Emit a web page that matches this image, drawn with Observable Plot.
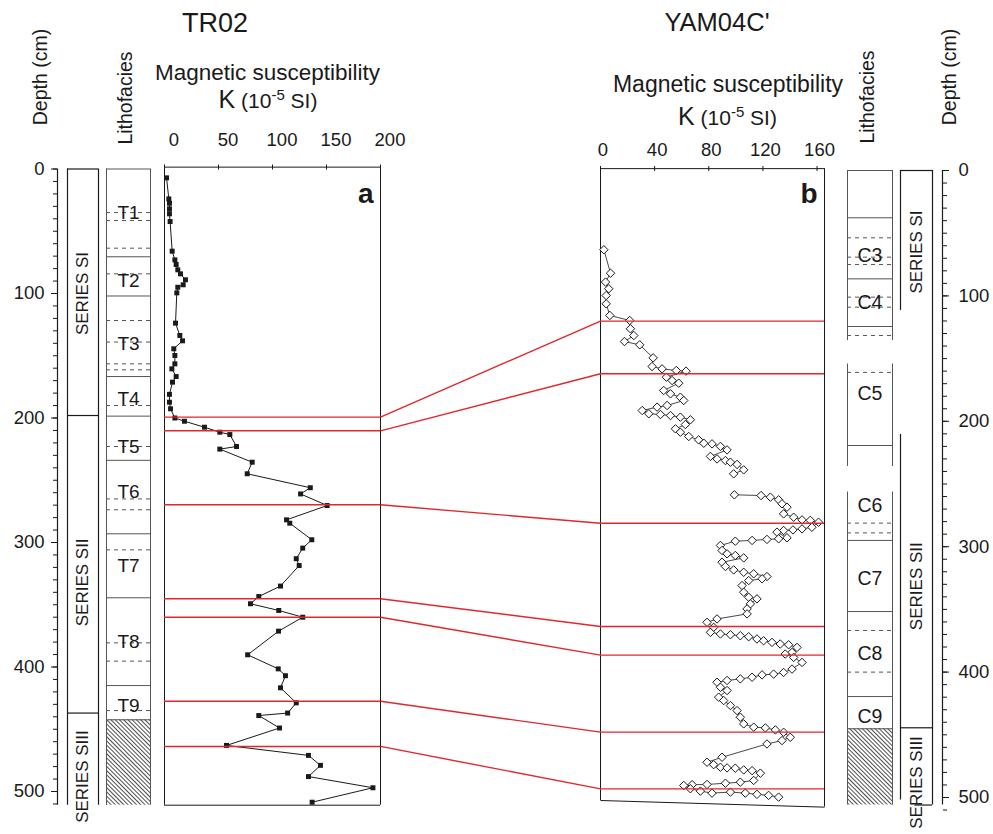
<!DOCTYPE html>
<html><head><meta charset="utf-8">
<script src="https://cdn.jsdelivr.net/npm/d3@7"></script>
<script src="https://cdn.jsdelivr.net/npm/@observablehq/plot@0.6"></script>
<style>
body{margin:0;background:#fff;}
#fig{position:relative;width:993px;height:834px;overflow:hidden;font-family:'Liberation Sans',Arial,sans-serif;color:#1a1a1a;background:#fff;}
.lbl{position:absolute;white-space:nowrap;line-height:1;transform:translate(-50%,-50%);}
.rot{transform:translate(-50%,-50%) rotate(-90deg);}
</style></head><body>
<svg width="0" height="0" style="position:absolute"><defs>
<pattern id="hatch" patternUnits="userSpaceOnUse" width="3" height="3" patternTransform="rotate(-45)">
<line x1="1.5" y1="-1" x2="1.5" y2="4" stroke="#222" stroke-width="0.8"/></pattern></defs></svg>
<div id="fig"></div>
<script>
// ---------------- data ----------------
const depthTicks = [0, 100, 200, 300, 400, 500];
const minorTicks = d3.range(0, 511, 10);
const ticksA = [0, 50, 100, 150, 200];
const ticksB = [0, 40, 80, 120, 160];

// TR02 (left) series & lithofacies (depth, cm)
const seriesNamesL = ["SERIES SI", "SERIES SII", "SERIES SIII"];
const seriesBoundsL = [0, 198, 437];
const seriesMidL = [100, 332, 488];
const faciesNamesL = ["T1", "T2", "T3", "T4", "T5", "T6", "T7", "T8", "T9"];
const faciesMidL = [35, 89.6, 140.4, 184.6, 222.9, 259, 318.5, 380, 431];
const faciesSolidL = [0, 70.5, 102, 166.7, 198.5, 234, 293, 344.4, 414.9, 442.4];
const faciesDashedL = [35, 41.4, 63.6, 84.2, 121.7, 139, 156.5, 161.3, 190, 222.9, 265, 273.7, 305.9, 380.6, 395.3, 435];
const hatchL = [442.4, 511];

// YAM04C' (right) series & lithofacies
const seriesNamesR = ["SERIES SI", "SERIES SII", "SERIES SIII"];
const seriesMidR = [65, 331.5, 488];
const seriesLeftSegsR = [[0, 111.6], [210.5, 502]];
const seriesBoundsR = [0, 444.4];
const faciesNamesR = ["C3", "C4", "C5", "C6", "C7", "C8", "C9"];
const faciesMidR = [67.8, 105.8, 178, 267, 325.6, 385.4, 435.4];
const faciesSolidR = [0, 37.7, 86.4, 124.4, 219.3, 295, 351.7, 419.5, 445.2];
const faciesDashedR = [53.7, 69.1, 75, 101, 109, 131.6, 161, 281.2, 289, 366.8, 400];
const faciesSegsR = [[0, 135.6], [154.3, 236], [256.4, 506]];
const hatchR = [445.2, 506];

// correlation levels (depth in TR02 -> depth in YAM04C')
const redA = [199.3, 210.3, 269.7, 345.2, 360, 427.5, 463.8];
const redB = [120.1, 162.1, 281.3, 363.6, 386.5, 447.9, 493.1];

// magnetic susceptibility TR02
const depthA = [7.1,24,27.5,32,36,42.2,66,73,76.7,81,84.2,89,93,95,99.5,123.8,133.7,138,144.4,149.8,156.5,160.5,166.7,171.2,181,187.3,192.6,200,202.6,207.4,211.4,213.3,222.9,225,235.5,244.8,256,261,270.3,281.8,284.5,297.8,304.5,313,318.5,335,343.4,349.2,354.6,360,371.2,390.2,401.5,407,416.7,428.8,437,439,449,463,471,479,488,497,508.6];
const kA = [1.9,4,4.6,4.6,4.6,5.2,7.1,9.6,10.8,12.3,14.8,19.4,17.3,12.3,11.4,10.2,14.2,16.7,8.6,9.6,9.6,6.8,10.8,7.4,4.6,4.6,5.6,9.6,18.5,37,51.2,60.5,66.7,51.2,81.2,76.6,135,126,150.6,113,116,136.4,128,122,124.7,107.4,87.3,79.6,105.8,128,105.6,77,105.3,112,107.4,122,114,87.3,106.5,57.4,133.3,144.4,133.3,193,136.7];

// magnetic susceptibility YAM04C'
const depthB = [63.2,81.9,89,94.3,99.7,106.3,115.6,119.6,126.2,131.6,136.4,139,149.4,156.3,158.2,159.5,160,164.8,167.5,169.6,175.4,178.1,180.8,183.4,187.4,188.7,191.4,194,194.6,195.4,196.7,198.8,202.6,206,208.7,212.1,214.8,217.5,218,220,222.8,228,230,231.3,232.6,234.4,238.7,241.9,
258.6,259.2,260.5,262.6,265.8,268.5,273.8,276.5,278.6,279,280.5,284.5,285.8,286.6,287.1,288.4,292.9,293.7,294.2,295,295.6,299,303,305.7,307,308.9,312.4,315.8,318.5,320.4,321.6,323.8,325.6,327,331,336.3,340.3,341.6,345.6,349.6,353.6,357.6,360.3,364.3,368.3,369.6,370.2,371,371.8,373.6,375,376.3,377.6,378.2,380.3,384.3,385.6,388.3,392.3,397.6,400.3,401.6,402.2,404.1,405.4,406.7,408.1,412.1,414.7,420,422.7,426.7,430.7,436,441.3,443.9,444.5,446.1,448,452,454.6,457.3,467.9,471.9,473.8,475.9,476.4,476.6,478,478.6,480.6,486.4,487.8,488.6,489.6,489.8,490.4,493,494.9,496.5,495.7,496.5,497.5,498.3,499.7];
const kB = [2.5,7.4,3.7,6.1,4.2,4.2,6.9,21.6,22.1,24.6,17.7,29,38.9,38.1,45.5,56,63.2,48.7,52.9,57.8,46.7,51.7,59,61.5,49.2,41.8,30.8,35.7,44.3,51.7,59,66.4,62.7,55.4,59,65.2,72.5,76.3,82.4,88.6,93.5,81.2,86.1,92.3,96,100.9,105.8,98.4,
98.9,118.6,125.5,131.6,134.1,137.8,135.3,142.7,148.9,155,161.1,156.2,148.9,142.2,135.3,130.4,137.8,131.6,123,112,99.6,88.6,89.8,93.5,99.6,105.8,89.8,92.3,98.4,105.8,113.2,123,119.4,109.5,104.6,105.8,109.5,115.6,110.7,108.3,108.3,86.1,78.7,83.6,81.2,88.6,96,103.3,109.5,115.6,120.5,126.7,132.8,139,145.2,141.5,136.5,142.7,148.9,141.5,135.3,127.9,119.4,112,103.3,93.5,86.1,88.6,93.5,87.3,91,96,100.9,103.3,105.8,113.2,121.8,129.2,135.3,140.2,134.1,123,89.8,78.7,83.6,88.6,93.5,99.6,105.8,112,118.1,113.2,103.3,92.3,78.7,67.7,61.5,66.4,73.8,82.4,96,107,115.6,124.2,131.6];
const coreGapB = 250; // core break in YAM04C' record

const dataA = depthA.map((d, i) => ({d, k: kA[i]}));
const dataB = depthB.map((d, i) => ({d, k: kB[i], run: d < coreGapB ? "upper" : "lower"}));

// ---------------- layout ----------------
const W = 993, H = 834;
const FONT = "'Liberation Sans', Arial, Helvetica, sans-serif";
const INK = "#1a1a1a", GRAY = "#555", RED = "#e3262d";
const L = {top: 168.5, bottom500: 791};
const R = {top: 170, bottom500: 797};
const colBottomL = 511, colBottomR = 506;
const frameTopA = -1.5, frameBottomA = 511;
const kMaxB = 165.5, frameTopB = -1.5, bottomLeftB = 502.4, bottomRightB = 507.7;
const fig = document.getElementById("fig");

function layer(x0, x1, geo, opts) {
  const p = Plot.plot({
    width: W, height: H,
    marginLeft: x0, marginRight: W - x1,
    marginTop: geo.top, marginBottom: H - geo.bottom500,
    style: `position:absolute;left:0;top:0;overflow:visible;font-family:${FONT};color:${INK};background:transparent`,
    marks: opts.marks,
    x: Object.assign({domain: [0, 1], axis: null, label: null}, opts.x || {}),
    y: Object.assign({domain: [0, 500], reverse: true, axis: null, label: null}, opts.y || {})
  });
  fig.appendChild(p);
  return p;
}

function label(html, x, y, size, o = {}) {
  const el = document.createElement("div");
  el.className = "lbl" + (o.rotate ? " rot" : "");
  el.style.left = x + "px"; el.style.top = y + "px"; el.style.fontSize = size + "px";
  el.innerHTML = html;
  fig.appendChild(el);
}

// left depth axis
layer(57, 58, L, {
  y: {axis: undefined},
  marks: [
    Plot.ruleX([0], {y1: 0, y2: colBottomL, stroke: INK, strokeWidth: 1.2}),
    Plot.axisY(minorTicks, {anchor: "left", tickSize: 4, tickFormat: () => "", label: null, stroke: INK}),
    Plot.axisY(depthTicks, {anchor: "left", tickSize: 6, tickPadding: 7, fontSize: 18.5, label: null, stroke: INK, fill: INK})
  ]
});

// left series column
layer(67, 98, L, {marks: [
  Plot.ruleX([0, 1], {y1: 0, y2: colBottomL, stroke: INK, strokeWidth: 1.2}),
  Plot.ruleY(seriesBoundsL, {stroke: INK, strokeWidth: 1.2}),
  Plot.text(seriesNamesL, {y: (d, i) => seriesMidL[i], text: d => d, frameAnchor: "middle", rotate: -90, fontSize: 17, fill: INK})
]});

// left lithofacies column
layer(106, 150, L, {marks: [
  Plot.rect([hatchL], {y1: d => d[0], y2: d => d[1], fill: "url(#hatch)"}),
  Plot.ruleX([0, 1], {y1: 0, y2: colBottomL, stroke: GRAY}),
  Plot.ruleY(faciesSolidL, {stroke: GRAY}),
  Plot.ruleY(faciesDashedL, {stroke: GRAY, strokeDasharray: "4,4"}),
  Plot.text(faciesNamesL, {y: (d, i) => faciesMidL[i], text: d => d, frameAnchor: "middle", fontSize: 19, fill: INK})
]});

// panel a
const plotA = layer(164, 380, L, {
  x: {domain: [0, 200], axis: undefined},
  marks: [
    Plot.ruleX([0, 200], {y1: frameTopA, y2: frameBottomA, stroke: INK}),
    Plot.ruleY([frameTopA, frameBottomA], {stroke: INK}),
    Plot.axisX(ticksA, {anchor: "top", tickSize: 5, tickFormat: () => "", label: null, stroke: INK}),
    Plot.axisX(ticksA, {anchor: "top", tickSize: 0, tickPadding: 23, dx: 9.5, fontSize: 18.5, label: null, fill: INK}),
    Plot.line(dataA, {x: "k", y: "d", stroke: INK, strokeWidth: 1}),
    Plot.dot(dataA, {x: "k", y: "d", symbol: "square", r: 2.8, fill: INK}),
    Plot.ruleY(redA, {stroke: RED, strokeWidth: 1.4}),
    Plot.text(["a"], {text: d => d, frameAnchor: "top-right", dx: -7, dy: 14.5, fontSize: 28, fontWeight: "bold", fill: INK})
  ]
});

// panel b
const plotB = layer(600, 824, R, {
  x: {domain: [0, kMaxB], axis: undefined},
  marks: [
    Plot.ruleX([0], {y1: frameTopB, y2: bottomLeftB, stroke: INK}),
    Plot.ruleX([kMaxB], {y1: frameTopB, y2: bottomRightB, stroke: INK}),
    Plot.ruleY([frameTopB], {stroke: INK}),
    Plot.link([kMaxB], {x1: 0, y1: bottomLeftB, x2: d => d, y2: bottomRightB, stroke: INK}),
    Plot.axisX(ticksB, {anchor: "top", tickSize: 5, tickFormat: () => "", label: null, stroke: INK}),
    Plot.axisX(ticksB, {anchor: "top", tickSize: 0, tickPadding: 15, dx: 2.5, fontSize: 18.5, label: null, fill: INK}),
    Plot.line(dataB, {x: "k", y: "d", z: "run", stroke: INK, strokeWidth: 0.8}),
    Plot.dot(dataB, {x: "k", y: "d", symbol: "diamond2", r: 3.8, fill: "white", stroke: INK, strokeWidth: 1}),
    Plot.ruleY(redB, {stroke: RED, strokeWidth: 1.4}),
    Plot.text(["b"], {text: d => d, frameAnchor: "top-right", dx: -7, dy: 13, fontSize: 28, fontWeight: "bold", fill: INK})
  ]
});

// correlation connectors between the two panels
const yA = plotA.scale("y"), yB = plotB.scale("y");
const links = redA.map((a, i) => ({a, b: yA.invert(yB.apply(redB[i]))}));
layer(380, 600, L, {marks: [
  Plot.link(links, {x1: 0, x2: 1, y1: "a", y2: "b", stroke: RED, strokeWidth: 1.4})
]});

// right lithofacies column
layer(847, 892, R, {marks: [
  Plot.rect([hatchR], {y1: d => d[0], y2: d => d[1], fill: "url(#hatch)"}),
  Plot.ruleX(d3.cross([0, 1], faciesSegsR), {x: d => d[0], y1: d => d[1][0], y2: d => d[1][1], stroke: GRAY}),
  Plot.ruleY(faciesSolidR, {stroke: GRAY}),
  Plot.ruleY(faciesDashedR, {stroke: GRAY, strokeDasharray: "4,4"}),
  Plot.text(faciesNamesR, {y: (d, i) => faciesMidR[i], text: d => d, frameAnchor: "middle", fontSize: 19.5, fill: INK})
]});

// right series column
layer(900, 932, R, {marks: [
  Plot.ruleX(seriesLeftSegsR, {x: 0, y1: d => d[0], y2: d => d[1], stroke: INK, strokeWidth: 1.2}),
  Plot.ruleX([1], {y1: 0, y2: colBottomR, stroke: INK, strokeWidth: 1.2}),
  Plot.ruleY(seriesBoundsR, {stroke: INK, strokeWidth: 1.2}),
  Plot.ruleY([colBottomR], {x1: 0.45, x2: 1, stroke: INK, strokeWidth: 1.2}),
  Plot.text(seriesNamesR, {y: (d, i) => seriesMidR[i], text: d => d, frameAnchor: "middle", rotate: -90, fontSize: 17, fill: INK})
]});

// right depth axis
layer(941, 942, R, {
  y: {axis: undefined},
  marks: [
    Plot.ruleX([1], {y1: 0, y2: colBottomR, stroke: INK, strokeWidth: 1.2}),
    Plot.axisY(minorTicks, {anchor: "right", tickSize: 4, tickFormat: () => "", label: null, stroke: INK}),
    Plot.axisY(depthTicks, {anchor: "right", tickSize: 6, tickPadding: 10, fontSize: 18.5, label: null, stroke: INK, fill: INK})
  ]
});

// titles and axis names
const kLabel = '<span style="font-size:25px">K</span> (10<span style="font-size:15px;position:relative;top:-8px">-5</span> SI)';
label("TR02", 215, 23, 27);
label("YAM04C'", 717, 23, 25.5);
label("Depth (cm)", 41, 77, 19.5, {rotate: true});
label("Lithofacies", 126, 98, 19.5, {rotate: true});
label("Lithofacies", 868, 97, 19.5, {rotate: true});
label("Depth (cm)", 950, 77, 19.5, {rotate: true});
label("Magnetic susceptibility", 267.5, 72.5, 22.5);
label("Magnetic susceptibility", 728, 84, 23);
label(kLabel, 268, 99, 21);
label(kLabel, 727.5, 115.5, 21);
</script>
</body></html>
